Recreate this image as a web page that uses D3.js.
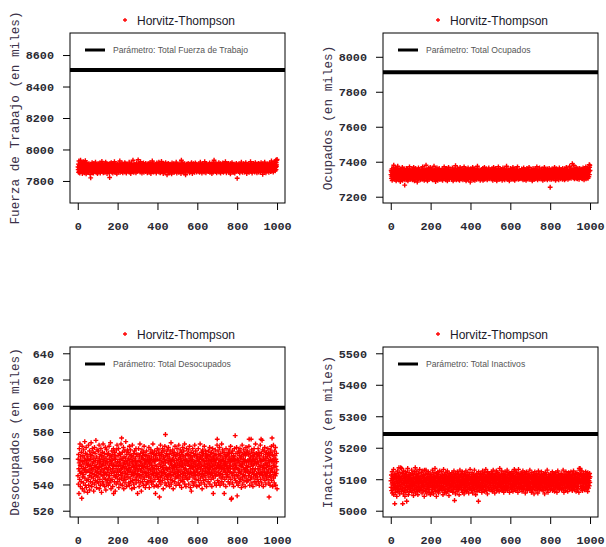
<!DOCTYPE html>
<html>
<head>
<meta charset="utf-8">
<script src="https://d3js.org/d3.v7.min.js"></script>
<style>
body { margin: 0; background: #fff; }
</style>
</head>
<body>
<div id="chart"></div>
<script>
// estimates for simulations 1..1000
// each string holds offsets, the value is base + offset*step (see below)
var fuerzaRaw = `
55 48 62 41 53 70 44 58 50 39 61 47 56 72 52 45 66 49 57 43 60 51 38 64 54 46 59 42 68 50 47 55 63 40 52 58 44 71 49 56 53 37 60 48 65 51 45 57 42 62
50 46 58 54 41 63 49 55 60 44 52 36 57 47 27 61 53 43 59 50 48 66 40 55 62 51 45 57 39 52 64 47 54 49 60 43 56 50 67 45 53 58 41 49 61 55 46 52 38 59
54 47 63 50 42 57 48 60 53 45 65 51 39 56 49 61 44 58 52 47 69 43 55 50 62 46 57 40 53 59 48 64 51 45 56 41 60 49 54 67 44 52 58 47 63 50 38 55 46 61
49 57 43 62 51 46 58 40 55 28 52 64 47 53 59 44 50 66 42 56 48 61 54 45 57 39 63 50 47 55 60 43 52 68 49 56 41 58 53 46 64 50 44 59 51 37 57 48 62 54
45 60 52 48 56 42 63 50 55 47 70 53 41 58 49 61 46 54 51 59 43 65 48 56 52 40 60 47 57 53 44 62 50 49 55 66 42 58 51 46 63 54 48 39 57 52 60 45 56 50
61 47 53 58 44 55 50 67 42 57 49 62 52 46 59 38 54 51 64 48 56 43 60 50 55 45 72 52 47 58 41 63 53 49 57 44 61 50 54 46 59 40 56 52 65 48 55 43 60 51
57 46 73 52 49 61 44 55 50 63 47 58 42 54 68 51 45 60 53 48 56 39 62 50 57 44 59 52 47 65 55 41 58 49 61 53 46 56 50 43 64 52 48 59 45 57 51 62 40 54
50 58 45 63 52 47 56 41 60 53 49 66 44 57 51 55 38 62 48 54 59 46 52 70 43 57 50 61 47 55 42 64 51 49 58 45 53 60 48 56 44 62 52 39 57 50 65 46 54 59
53 48 61 44 56 51 67 42 58 50 46 63 54 40 57 49 60 45 52 69 47 55 43 61 51 58 46 53 38 64 50 56 44 59 52 48 62 41 55 50 66 47 57 45 60 53 49 35 58 52
46 59 51 64 43 55 50 61 47 57 40 53 62 48 56 44 60 52 49 58 37 54 65 46 51 59 43 57 50 63 45 55 48 60 41 53 56 47 62 51 44 58 50 67 45 54 39 61 52 57
50 44 62 55 47 58 41 53 60 49 56 43 64 51 46 59 52 38 57 72 48 54 61 45 55 50 66 42 58 53 47 60 40 56 51 63 44 57 49 54 35 59 52 46 62 50 57 43 55 61
48 56 52 64 44 58 50 47 61 53 40 57 49 55 45 62 51 59 43 54 66 47 56 50 38 60 53 46 58 52 63 44 55 49 57 41 61 51 48 65 54 45 59 50 56 42 62 53 47 58
55 49 60 43 57 52 46 63 50 56 41 59 53 48 67 45 54 61 50 44 58 52 39 62 47 56 51 64 45 57 49 53 60 42 55 50 68 46 58 53 47 61 40 56 52 63 48 55 44 59
51 57 45 62 50 54 43 60 48 56 52 65 41 58 47 53 61 49 55 44 59 51 38 63 57 46 54 60 50 42 66 53 48 72 56 45 61 52 47 58 43 55 64 50 49 57 40 62 53 46
58 44 55 61 49 53 47 66 42 57 51 60 45 54 50 63 39 56 52 48 59 46 55 62 43 57 50 65 47 53 41 60 52 56 45 58 49 61 44 54 68 51 46 57 53 40 62 48 55 50
47 61 53 45 58 50 64 42 56 52 49 60 44 57 51 37 63 48 55 59 46 53 50 66 43 58 52 47 61 54 41 56 49 60 45 57 53 39 62 50 55 46 59 51 48 64 44 56 52 26
58 46 54 61 49 56 43 52 63 47 57 50 40 59 53 45 62 51 55 48 67 44 57 52 46 60 41 54 50 58 47 63 53 49 56 42 61 51 45 59 54 48 66 43 57 50 52 38 60 55
50 55 44 61 48 57 52 46 63 41 56 53 49 59 45 54 68 50 47 58 43 62 51 56 39 60 53 48 57 45 64 52 46 55 61 49 54 42 58 50 66 47 56 53 44 60 51 57 40 62
53 47 60 45 56 51 64 42 58 49 54 62 46 57 50 41 59 53 48 66 44 55 61 50 47 58 52 36 63 54 45 57 49 60 43 56 52 67 48 55 51 46 62 40 57 53 59 44 50 61
48 56 52 63 45 58 50 55 41 60 47 54 65 51 46 57 62 43 53 59 49 70 44 56 52 61 47 58 50 64 42 55 53 60 46 57 68 51 49 62 45 59 54 72 48 66 56 60 72 74`;

var ocupadosRaw = `
52 60 45 57 49 63 41 55 51 47 58 44 66 50 70 54 46 61 48 56 43 59 52 65 47 53 40 62 50 57 45 55 60 49 68 44 53 58 46 51 64 42 56 50 48 61 54 39 57 52
47 55 62 44 58 50 53 66 41 56 49 61 45 52 57 48 63 43 54 32 59 46 51 60 47 55 42 64 50 53 58 45 56 49 62 40 57 52 47 60 44 55 51 67 46 53 59 48 56 43
61 49 54 45 58 52 47 63 42 56 50 59 44 53 66 48 57 51 40 62 55 46 58 50 64 43 54 49 60 47 56 52 38 61 53 45 57 50 65 44 55 48 62 51 46 59 53 42 57 49
55 45 62 51 48 58 43 56 53 67 47 60 50 44 57 52 63 41 55 49 59 46 54 61 48 52 70 44 57 50 46 62 53 40 58 51 55 47 64 49 56 43 60 52 48 57 45 66 51 54
48 59 52 44 61 55 47 57 50 42 63 53 49 58 46 56 68 43 54 51 60 45 57 50 39 62 52 48 59 44 55 65 47 53 58 41 56 50 61 46 54 49 64 43 57 52 47 60 51 55
57 43 60 49 55 52 46 63 50 41 58 54 47 61 53 45 56 67 48 52 59 44 55 50 62 42 57 51 48 64 46 53 60 40 56 49 58 45 52 66 47 55 61 50 43 57 53 48 59 54
50 62 46 55 58 43 53 49 65 47 57 52 40 60 51 56 45 63 48 54 59 44 57 50 69 46 53 61 42 55 49 58 47 64 52 45 56 60 43 54 50 57 48 62 41 55 53 66 46 58
46 55 60 51 44 57 49 63 53 47 58 42 56 50 61 45 54 67 48 52 59 43 57 51 64 46 55 40 60 53 48 56 62 44 52 58 47 65 50 54 43 59 51 46 61 55 49 57 38 63
54 48 57 62 45 51 59 44 56 50 66 47 53 60 42 58 52 46 63 49 55 41 61 53 48 57 45 64 50 56 43 59 52 47 68 54 46 60 51 44 58 50 62 45 55 53 49 57 41 60
49 58 53 45 62 50 56 44 59 52 47 64 41 55 51 60 48 57 43 66 53 46 58 50 55 61 44 52 59 47 63 50 54 42 57 49 60 45 53 56 48 65 51 44 58 52 46 61 55 50
55 47 61 52 44 58 50 63 46 54 57 41 60 49 53 66 45 56 51 48 62 43 55 59 47 52 64 50 45 57 53 40 61 48 56 51 59 44 54 67 49 52 58 46 60 43 55 50 63 47
52 59 45 56 50 62 47 54 41 58 53 48 65 44 57 51 60 46 55 49 63 42 56 52 58 47 53 61 45 50 68 48 55 43 59 54 46 62 51 57 44 60 49 53 40 58 52 56 47 64
47 56 62 50 44 58 53 48 61 45 55 51 66 43 57 49 60 52 46 59 54 41 63 50 56 47 58 44 53 62 49 55 45 60 51 67 46 54 58 43 57 50 52 61 48 55 44 59 53 50
60 45 53 58 50 47 63 52 44 56 49 61 54 42 57 51 65 46 55 48 59 43 62 50 53 57 46 60 41 55 52 48 64 45 56 50 58 44 53 61 47 56 51 66 43 59 54 49 57 46
53 48 59 44 62 51 55 47 57 40 60 52 49 64 45 56 53 47 61 43 58 50 55 46 63 51 44 57 52 59 48 54 67 45 56 50 42 61 53 47 58 55 45 60 49 52 65 44 57 51
49 57 52 46 60 44 55 63 50 47 58 53 41 56 61 48 54 45 59 51 66 43 57 52 47 62 50 55 44 58 53 49 60 46 56 42 63 51 54 47 59 45 57 52 64 48 55 50 43 28
56 50 61 46 54 58 43 52 63 49 57 45 60 51 47 55 62 44 53 59 48 66 50 45 57 52 41 60 54 47 58 50 63 44 56 51 49 61 46 55 53 58 42 59 48 65 52 47 56 50
51 59 44 56 62 48 53 46 60 50 57 43 64 52 47 55 58 45 61 49 54 42 63 51 56 48 59 44 57 53 66 46 52 60 47 55 50 62 43 58 54 49 57 45 61 52 46 68 53 56
58 47 62 53 45 56 60 50 64 52 73 57 48 61 54 46 59 70 51 55 63 44 58 52 49 62 47 56 53 66 45 60 51 48 57 63 44 55 52 59 47 61 50 56 43 64 53 49 58 46
55 60 47 63 52 48 58 45 56 62 50 44 59 53 65 47 57 51 61 42 55 58 49 63 46 54 60 51 67 44 57 52 48 62 55 46 59 50 64 45 56 53 61 48 58 71 52 66 70 60`;

var desocupadosRaw = `
44 58 37 62 50 29 55 67 41 48 71 53 35 60 46 57 39 64 52 25 47 69 33 56 43 61 50 38 66 45 54 31 59 49 73 42 57 36 63 51 47 68 34 55 40 62 48 58 30 53
60 41 54 70 36 49 57 44 65 32 52 47 62 39 58 53 72 43 50 35 61 46 67 55 38 49 64 42 56 31 59 51 45 68 37 53 63 40 57 48 74 44 52 34 60 47 66 39 55 50
43 57 65 38 51 46 70 33 59 54 41 62 48 36 56 67 45 52 30 61 49 58 39 64 53 44 71 37 55 47 60 42 50 63 35 57 46 68 41 54 32 59 51 45 66 38 56 49 62 40
55 47 36 63 51 42 69 58 44 53 38 61 49 72 40 56 33 60 46 54 65 41 57 50 35 62 48 53 67 29 52 44 59 39 64 47 55 31 58 43 61 50 37 66 45 53 70 42 56 48
39 61 52 45 67 34 56 49 63 41 55 58 37 62 47 53 71 44 50 76 42 59 36 64 51 46 57 40 68 54 33 60 48 55 43 65 38 52 59 46 73 41 56 50 35 62 45 54 66 49
57 43 64 50 38 59 47 53 69 36 55 62 42 48 66 39 58 51 45 61 33 56 47 70 40 54 60 44 52 37 63 49 57 34 65 46 51 41 59 55 48 67 38 53 62 43 56 50 45 29
46 62 53 40 67 49 57 35 60 44 52 71 38 56 48 63 42 55 31 59 50 66 45 53 39 61 47 58 36 64 51 43 69 54 41 57 48 62 34 55 46 60 52 37 65 44 56 50 39 58
52 38 61 47 56 43 68 50 34 59 54 45 63 40 57 49 66 42 53 60 37 55 48 64 46 51 71 39 58 44 62 50 35 56 47 65 41 53 59 29 57 44 61 49 36 63 52 46 67 43
58 45 35 63 50 41 66 54 39 26 61 47 57 43 70 52 37 59 48 64 44 55 62 40 51 67 46 56 33 60 49 53 65 42 58 47 69 38 55 79 45 61 51 36 63 50 44 57 66 41
49 60 43 55 68 38 57 46 62 51 35 59 45 65 41 54 48 72 37 56 53 44 63 40 58 50 66 47 33 61 52 45 57 64 39 55 49 69 42 53 60 46 36 62 51 57 43 67 48 54
44 63 51 38 58 47 70 42 55 61 36 53 49 66 45 59 40 56 52 64 34 57 48 62 43 54 68 39 60 46 51 65 41 55 47 71 37 58 50 44 61 53 35 57 49 67 42 56 63 46
56 41 62 48 54 66 37 59 45 52 69 43 57 50 34 61 47 55 64 31 53 46 60 39 58 51 67 44 56 36 63 49 54 42 61 47 70 38 55 52 45 65 41 57 48 60 35 53 62 50
47 59 53 44 67 40 56 51 62 36 58 46 54 71 42 60 49 55 38 64 52 45 58 33 61 48 66 43 53 57 40 63 50 46 69 37 56 52 44 60 48 65 41 54 59 35 62 47 57 51
61 46 54 39 65 50 57 43 60 48 53 68 37 55 62 45 51 58 41 64 47 56 35 60 52 44 67 49 54 29 59 42 63 50 46 57 38 61 53 66 44 55 48 62 36 58 51 45 70 75
53 40 59 65 47 55 38 62 50 44 68 52 57 36 61 46 54 63 42 56 49 71 39 58 51 45 66 43 60 53 37 57 48 64 29 55 50 41 62 47 59 54 35 67 45 52 61 43 56 49
45 62 51 56 39 64 48 58 43 66 53 37 60 47 55 50 69 41 57 24 63 25 46 59 52 38 65 44 56 50 61 35 58 47 54 67 42 60 49 78 53 40 57 63 45 51 68 38 55 27
58 44 63 50 36 57 47 65 42 55 61 49 39 67 53 46 59 41 64 52 34 60 48 56 70 43 54 37 62 51 45 58 66 40 55 49 63 44 57 35 61 50 47 68 42 56 53 39 64 48
51 65 40 57 48 62 44 55 69 75 46 58 36 63 52 41 60 49 56 75 43 66 54 38 61 47 57 50 35 64 53 45 59 42 67 48 55 62 39 56 50 71 44 58 37 63 46 54 60 41
56 43 62 50 67 39 55 47 64 52 36 59 45 61 49 70 41 57 53 75 46 63 38 56 74 51 44 66 48 58 35 60 53 42 65 50 47 68 40 57 54 45 62 37 59 51 64 43 55 48
60 46 53 67 41 57 49 63 38 26 55 44 61 52 36 66 47 58 43 64 50 69 40 56 76 48 62 35 57 45 53 70 42 59 51 38 65 47 55 61 44 68 36 58 52 46 63 56 49 33`;

var inactivosRaw = `
55 47 62 43 58 51 66 40 53 60 45 57 49 69 38 56 63 46 52 27 59 44 61 50 41 64 54 47 58 36 60 52 45 67 49 55 42 62 57 48 71 44 53 59 39 65 50 56 46 71
48 60 53 42 70 57 50 64 45 27 55 61 39 52 67 47 58 43 62 51 36 59 54 46 66 41 57 49 63 30 53 60 44 56 70 48 52 38 61 55 47 65 42 58 50 54 62 45 57 49
62 46 55 51 68 41 59 48 53 64 43 57 50 37 61 54 46 66 52 44 58 49 71 40 56 63 47 53 59 45 67 50 42 60 55 38 57 48 64 52 45 61 56 43 69 51 47 58 54 60
44 58 52 65 47 55 40 61 53 49 67 43 57 50 62 46 54 36 59 68 48 56 63 42 55 51 68 45 58 53 39 64 50 57 46 61 52 44 66 49 55 60 41 57 53 47 63 50 38 59
52 63 47 56 41 60 54 49 68 44 57 51 62 39 55 48 65 53 45 59 50 70 42 58 54 47 61 52 36 64 49 56 43 60 51 66 46 55 58 40 63 53 48 57 44 67 50 54 61 46
57 45 60 52 49 66 43 55 58 47 62 38 54 51 69 46 59 53 41 63 56 48 61 44 57 52 65 40 55 50 60 46 53 67 42 58 49 62 45 56 54 37 64 51 47 59 55 43 61 50
49 61 54 43 58 51 65 46 56 60 41 53 63 48 57 44 67 52 55 31 59 47 62 50 39 64 53 45 58 56 48 61 42 66 51 54 47 60 57 44 63 50 38 59 53 46 68 55 49 62
54 47 59 63 50 44 57 52 66 41 56 49 61 53 45 60 55 39 64 51 47 58 43 62 54 48 67 50 56 42 61 53 46 59 57 44 65 49 52 60 40 55 58 47 63 51 45 69 53 57
46 58 52 61 43 56 50 65 48 54 40 60 57 45 63 51 47 59 53 68 44 56 61 49 55 38 62 52 46 58 50 64 42 57 54 48 60 45 53 30 66 51 56 43 61 49 55 59 47 63
59 50 64 45 57 53 41 62 55 48 67 52 44 60 56 47 63 50 58 42 65 54 49 61 46 57 69 51 43 59 55 48 62 53 39 66 57 50 60 45 54 63 47 58 52 64 44 56 61 49
53 62 47 58 66 44 56 51 60 42 63 55 49 68 46 57 52 61 45 59 54 40 64 50 57 48 62 53 46 67 55 43 60 51 58 47 65 52 44 61 56 49 63 42 59 53 70 47 55 50
60 48 56 63 51 45 67 54 58 43 61 52 47 64 55 50 41 62 57 46 59 53 66 44 56 60 49 63 52 45 58 55 48 68 43 61 54 50 65 47 57 52 62 46 59 41 64 55 51 58
47 63 55 50 61 44 58 66 52 48 60 54 42 64 57 49 62 51 46 69 53 59 45 67 56 50 61 43 57 54 48 65 52 60 46 58 63 41 55 51 69 47 59 53 62 45 57 50 64 48
56 52 60 45 64 53 48 58 42 62 55 47 67 51 59 44 61 54 49 57 65 46 53 60 40 63 56 50 58 45 66 52 48 61 55 43 59 51 64 47 57 62 49 54 46 60 53 68 44 58
50 59 46 62 54 41 57 65 48 53 60 44 56 51 63 47 58 52 39 61 55 49 66 45 57 50 62 53 43 59 56 48 64 51 46 60 54 40 58 52 67 47 55 61 44 57 50 63 49 53
58 45 61 53 49 66 52 57 44 60 47 55 62 50 43 58 54 64 46 56 51 39 61 53 48 65 57 45 59 52 62 47 55 50 68 44 58 53 41 60 56 49 63 46 57 51 60 48 54 62
44 57 52 63 48 60 55 46 58 51 66 43 56 61 49 53 59 45 64 50 57 42 62 54 47 58 52 65 45 56 60 49 53 41 61 55 48 67 52 58 46 63 50 55 59 44 62 51 57 47
61 50 55 47 64 53 44 58 62 51 46 60 56 49 68 45 57 53 41 63 55 50 59 47 61 54 43 57 66 52 48 60 55 46 63 51 58 42 56 61 49 54 65 47 59 53 45 62 57 50
49 60 54 66 45 57 52 61 47 56 43 63 58 50 55 48 67 53 46 59 62 51 44 57 55 64 49 53 60 42 58 56 47 65 51 54 61 45 59 52 48 63 56 41 57 70 53 62 68 70
55 48 63 52 58 45 60 54 67 49 56 43 61 53 47 59 64 51 46 57 55 62 44 60 52 58 48 66 53 45 61 56 50 63 47 59 54 42 65 57 51 60 46 62 55 49 58 64 53 60`;

//offset -> thousands of people
function readSeries(raw, base, step) {
	return raw.trim().split(/\s+/).map(function(d){
		return base + (+d) * step;
	});
}

var fuerzaValues = readSeries(fuerzaRaw, 7752, 2.5);
var ocupadosValues = readSeries(ocupadosRaw, 7170, 3.0);
var desocupadosValues = readSeries(desocupadosRaw, 507, 0.9);
var inactivosValues = readSeries(inactivosRaw, 4952, 2.6);

//true population totals (the thick line)
var paramValues = [8505, 7912, 598.5, 5244];

var yLabels = ["Fuerza de Trabajo (en miles)", "Ocupados (en miles)",
	"Desocupados (en miles)", "Inactivos (en miles)"];
var legendLabels = ["Parámetro: Total Fuerza de Trabajo", "Parámetro: Total Ocupados",
	"Parámetro: Total Desocupados", "Parámetro: Total Inactivos"];
var yLimits = [[7700, 8700], [7200, 8100], [520, 640], [5000, 5500]];
var yTicks = [
	[7800, 8000, 8200, 8400, 8600],
	[7200, 7400, 7600, 7800, 8000],
	[520, 540, 560, 580, 600, 620, 640],
	[5000, 5100, 5200, 5300, 5400, 5500]
];
var xTicks = [0, 200, 400, 600, 800, 1000];
var xLimits = [1, 1000];
var titleText = "Horvitz-Thompson";

var width = 606,
	height = 547;

var boxW = 215,
	boxH = 170;
var colX = [70, 383],
	rowY = [33, 347];

var allValues = [fuerzaValues, ocupadosValues, desocupadosValues, inactivosValues];

var svg = d3.select("#chart").append("svg")
	.attr("width", width)
	.attr("height", height)
	.style("background", "#fff");

//R style 4% padding on the limits
function pad(lim) {
	var e = (lim[1] - lim[0]) * 0.04;
	return [lim[0] - e, lim[1] + e];
}

function plusPath(s) {
	return "M" + (-s) + ",0H" + s + "M0," + (-s) + "V" + s;
}

var monoFont = "'Liberation Mono', 'DejaVu Sans Mono', monospace";

allValues.forEach(function(vals, i){
	var x0 = colX[i % 2],
		y0 = rowY[Math.floor(i / 2)];

	var xScale = d3.scaleLinear()
		.domain(pad(xLimits))
		.range([x0, x0 + boxW]);

	var yScale = d3.scaleLinear()
		.domain(pad(yLimits[i]))
		.range([y0 + boxH, y0]);

	var g = svg.append("g");

	g.append("clipPath")
		.attr("id", "clip" + i)
		.append("rect")
			.attr("x", x0)
			.attr("y", y0)
			.attr("width", boxW)
			.attr("height", boxH);

	var plot = g.append("g").attr("clip-path", "url(#clip" + i + ")");

	//the estimates
	plot.selectAll("path.pt").data(vals)
		.enter().append("path")
			.attr("class", "pt")
			.attr("d", plusPath(2.4))
			.attr("transform", function(d, j){
				return "translate(" + xScale(j + 1) + "," + yScale(d) + ")";
			})
			.style("stroke", "#ff0000")
			.style("stroke-width", 1.4)
			.style("fill", "none");

	//parameter line
	plot.append("line")
		.attr("x1", x0)
		.attr("x2", x0 + boxW)
		.attr("y1", yScale(paramValues[i]))
		.attr("y2", yScale(paramValues[i]))
		.style("stroke", "#000")
		.style("stroke-width", 4);

	//box
	g.append("rect")
		.attr("x", x0)
		.attr("y", y0)
		.attr("width", boxW)
		.attr("height", boxH)
		.style("fill", "none")
		.style("stroke", "#000")
		.style("stroke-width", 1);

	var yAxis = g.append("g")
		.attr("transform", "translate(" + x0 + ",0)")
		.call(d3.axisLeft(yScale).tickValues(yTicks[i]).tickFormat(d3.format("d"))
			.tickSize(7).tickPadding(9).tickSizeOuter(0));
	var xAxis = g.append("g")
		.attr("transform", "translate(0," + (y0 + boxH) + ")")
		.call(d3.axisBottom(xScale).tickValues(xTicks).tickFormat(d3.format("d"))
			.tickSize(7).tickPadding(12).tickSizeOuter(0));

	[yAxis, xAxis].forEach(function(ax){
		ax.select(".domain").remove();
		ax.selectAll("line").style("stroke", "#000");
		ax.selectAll("text")
			.style("font-family", monoFont)
			.style("font-size", "11.8px")
			.style("font-weight", "bold")
			.style("fill", "#2a2a33");
	});

	//y title
	g.append("text")
		.attr("transform", "translate(" + (x0 - 55) + "," + (y0 + boxH / 2) + ") rotate(-90)")
		.attr("text-anchor", "middle")
		.attr("dy", "0.35em")
		.style("font-family", monoFont)
		.style("font-size", "12.7px")
		.style("fill", "#3a3048")
		.text(yLabels[i]);

	//legend above the box
	g.append("path")
		.attr("d", plusPath(2))
		.attr("transform", "translate(" + (x0 + 55) + "," + (y0 - 13) + ")")
		.style("stroke", "#ff0000")
		.style("stroke-width", 1.3);
	g.append("text")
		.attr("x", x0 + 67)
		.attr("y", y0 - 8)
		.style("font-family", "'Liberation Sans', Arial, sans-serif")
		.style("font-size", "12px")
		.style("fill", "#1a1a2a")
		.text(titleText);

	//legend inside the box
	g.append("line")
		.attr("x1", x0 + 15)
		.attr("x2", x0 + 35)
		.attr("y1", y0 + 17)
		.attr("y2", y0 + 17)
		.style("stroke", "#000")
		.style("stroke-width", 3);
	g.append("text")
		.attr("x", x0 + 43)
		.attr("y", y0 + 20)
		.style("font-family", "'Liberation Sans', Arial, sans-serif")
		.style("font-size", "8.6px")
		.style("fill", "#555")
		.text(legendLabels[i]);
});
</script>
</body>
</html>
